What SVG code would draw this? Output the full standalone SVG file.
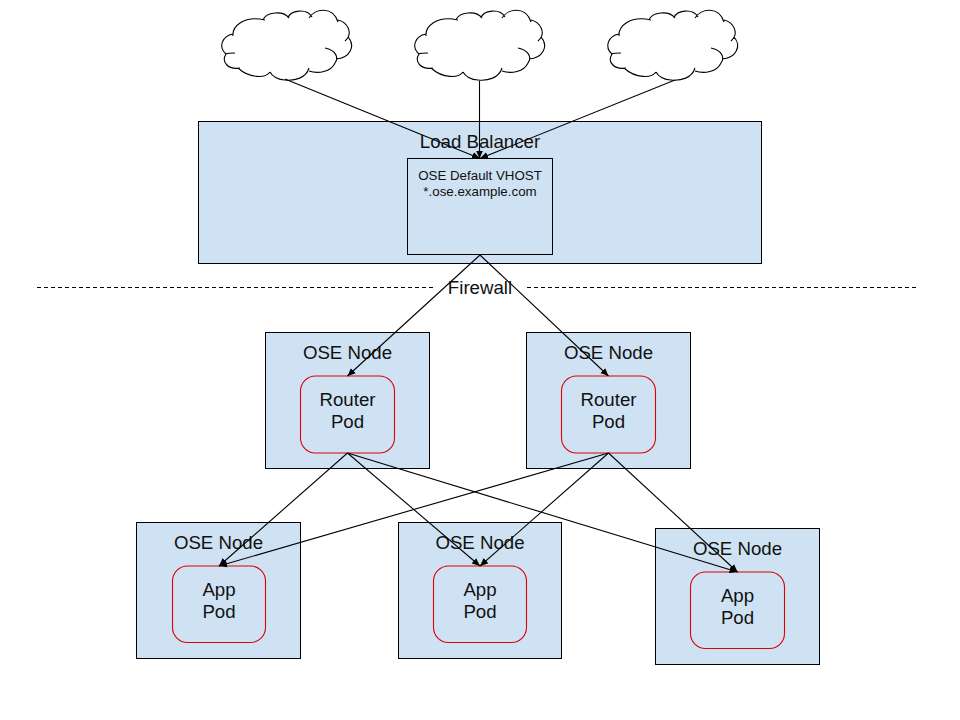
<svg xmlns="http://www.w3.org/2000/svg" width="960" height="720" viewBox="0 0 960 720">
<style>
.box{fill:#cfe2f3;stroke:#000;stroke-width:1}
.pod{fill:none;stroke:#e00000;stroke-width:1.1}
.cloudline{fill:none;stroke:#000;stroke-width:1.1}
.conn{fill:none;stroke:#000;stroke-width:1.1;marker-end:url(#arrow)}
.dash{fill:none;stroke:#000;stroke-width:1;stroke-dasharray:4 3}
text{font-family:"Liberation Sans",Arial,sans-serif;font-size:18.67px;fill:#111;text-anchor:middle}
.small{font-size:13.33px}
</style>
<defs>
<marker id="arrow" markerUnits="userSpaceOnUse" markerWidth="9" markerHeight="8" refX="8" refY="4" orient="auto"><path d="M0 0.5L8 4L0 7.5Z" fill="#000"/></marker>
<path id="cloud" class="cloudline" d="M233 36C232 27 243 15 265 20M263 20C266 12 283 10 289 18M288 18C290 10 307 8 312 17M309 18C315 8 333 6 338 22M338 20C347 22 354 33 345 41M348 37C356 46 350 58 336 59M325 48C336 50 339 58 335 63C331 72 318 74 309 71M309 68C306 78 295 81 285 80C278 80 272 76 270 72M270 72C266 78 250 79 238 68M240 68C228 70 221 62 226 54C228 53 232 53 235 53M226 54C218 47 222 36 233 34"/>
</defs>

<g id="cloud-1"><use href="#cloud"/></g>
<g id="cloud-2"><use href="#cloud" x="193"/></g>
<g id="cloud-3"><use href="#cloud" x="386"/></g>

<g id="load-balancer">
<rect class="box" x="198.5" y="121.5" width="563" height="142"/>
<text x="480" y="148">Load Balancer</text>
</g>
<g id="vhost">
<rect class="box" x="407.5" y="158.5" width="145" height="96"/>
<text class="small" x="480" y="180">OSE Default VHOST</text>
<text class="small" x="480" y="196">*.ose.example.com</text>
</g>
<g id="firewall">
<path class="dash" d="M37 287.5H434M527 287.5H917"/>
<text x="480" y="294">Firewall</text>
</g>
<g id="node-r1">
<rect class="box" x="265.5" y="332.5" width="164" height="136"/>
<text x="347.5" y="359">OSE Node</text>
<rect class="pod" x="300.5" y="376" width="94" height="77" rx="15"/>
<text x="347.500" y="406">Router</text>
<text x="347.500" y="428">Pod</text>
</g>
<g id="node-r2">
<rect class="box" x="526.5" y="332.5" width="164" height="136"/>
<text x="608.5" y="359">OSE Node</text>
<rect class="pod" x="561.5" y="376" width="94" height="77" rx="15"/>
<text x="608.500" y="406">Router</text>
<text x="608.500" y="428">Pod</text>
</g>
<g id="node-a1">
<rect class="box" x="136.5" y="522.5" width="164" height="136"/>
<text x="218.5" y="549">OSE Node</text>
<rect class="pod" x="172.5" y="566" width="93" height="76.500" rx="15"/>
<text x="219" y="596">App</text>
<text x="219" y="618">Pod</text>
</g>
<g id="node-a2">
<rect class="box" x="398.5" y="522.5" width="163" height="136"/>
<text x="480" y="549">OSE Node</text>
<rect class="pod" x="433.5" y="566" width="93" height="76.500" rx="15"/>
<text x="480" y="596">App</text>
<text x="480" y="618">Pod</text>
</g>
<g id="node-a3">
<rect class="box" x="655.5" y="528.5" width="164" height="136"/>
<text x="737.5" y="555">OSE Node</text>
<rect class="pod" x="690.5" y="572" width="94" height="76.500" rx="15"/>
<text x="737.500" y="602">App</text>
<text x="737.500" y="624">Pod</text>
</g>

<g id="connectors">
<path class="conn" d="M285 79L480 158.500"/>
<path class="conn" d="M479.500 81L479.500 158.500"/>
<path class="conn" d="M675 80L480 158.500"/>
<path class="conn" d="M480 255L347.500 376"/>
<path class="conn" d="M480 255L608.500 376"/>
<path class="conn" d="M347.500 453L219 566"/>
<path class="conn" d="M347.500 453L480 566"/>
<path class="conn" d="M347.500 453L737.500 572"/>
<path class="conn" d="M608.500 453L219 566"/>
<path class="conn" d="M608.500 453L480 566"/>
<path class="conn" d="M608.500 453L737.500 572"/>
</g>
</svg>
